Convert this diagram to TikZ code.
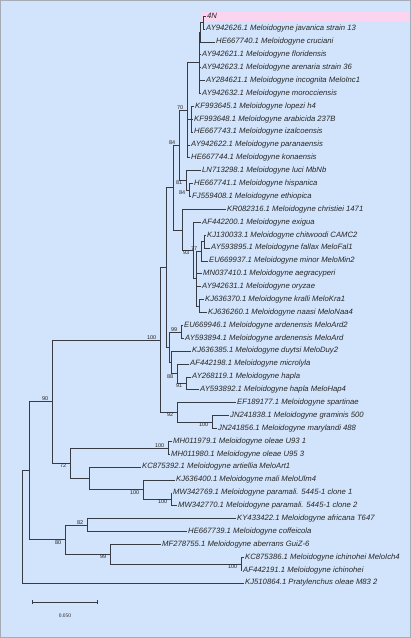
\documentclass[tikz,border=0pt]{standalone}
\usepackage{fontspec}
\setmainfont{Liberation Sans}
\newfontfamily\barfont{Liberation Serif}
\definecolor{panelblue}{RGB}{210,228,251}
\definecolor{framegray}{RGB}{165,172,182}
\definecolor{hilite}{RGB}{252,212,240}
\definecolor{branchgray}{RGB}{55,60,68}

\begin{document}
\begin{tikzpicture}[x=1pt, y=-1pt, every node/.style={font=\fontsize{7.7}{8}\selectfont\itshape, text=black!85},
    br/.style={draw=branchgray, line width=0.6pt},
    leaf/.style={anchor=west, inner sep=1pt},
    bsup/.style={anchor=south east, font=\fontsize{5.5}{6}\selectfont, inner sep=0.5pt},
    bsdn/.style={anchor=north east, font=\fontsize{5.5}{6}\selectfont, inner sep=0.5pt}]
    % panel
    \useasboundingbox (0,0) rectangle (411,638);
    \fill[panelblue] (0,0) rectangle (411,638);
    \draw[framegray] (0.5,0.5) rectangle (410.5,637);
    \fill[hilite] (202,12) rectangle (409,20.5);

    % leaves
    \node[leaf] (n4)   at (206,16.0)  {4N};
    \node[leaf] (jav)  at (205,28.9)  {AY942626.1 Meloidogyne javanica strain 13};
    \node[leaf] (cru)  at (215,41.8)  {HE667740.1 Meloidogyne cruciani};
    \node[leaf] (flo)  at (201,54.7)  {AY942621.1 Meloidogyne floridensis};
    \node[leaf] (are)  at (201,67.5)  {AY942623.1 Meloidogyne arenaria strain 36};
    \node[leaf] (inc)  at (205,80.4)  {AY284621.1 Meloidogyne incognita MeloInc1};
    \node[leaf] (mor)  at (201,93.3)  {AY942632.1 Meloidogyne morocciensis};
    \node[leaf] (lop)  at (194,106.2) {KF993645.1 Meloidogyne lopezi h4};
    \node[leaf] (arb)  at (193,119.1) {KF993648.1 Meloidogyne arabicida 237B};
    \node[leaf] (iza)  at (193,132.0) {HE667743.1 Meloidogyne izalcoensis};
    \node[leaf] (par)  at (190,144.9) {AY942622.1 Meloidogyne paranaensis};
    \node[leaf] (kon)  at (190,157.7) {HE667744.1 Meloidogyne konaensis};
    \node[leaf] (luc)  at (201,170.6) {LN713298.1 Meloidogyne luci MbNb};
    \node[leaf] (his)  at (193,183.5) {HE667741.1 Meloidogyne hispanica};
    \node[leaf] (eth)  at (191,196.4) {FJ559408.1 Meloidogyne ethiopica};
    \node[leaf] (chr)  at (226,209.3) {KR082316.1 Meloidogyne christiei 1471};
    \node[leaf] (exi)  at (201,222.2) {AF442200.1 Meloidogyne exigua};
    \node[leaf] (chi)  at (206,235.1) {KJ130033.1 Meloidogyne chitwoodi CAMC2};
    \node[leaf] (fal)  at (210,248.0) {AY593895.1 Meloidogyne fallax MeloFal1};
    \node[leaf] (min)  at (208,260.8) {EU669937.1 Meloidogyne minor MeloMin2};
    \node[leaf] (aeg)  at (202,273.7) {MN037410.1 Meloidogyne aegracyperi};
    \node[leaf] (ory)  at (201,286.6) {AY942631.1 Meloidogyne oryzae};
    \node[leaf] (kra)  at (204,299.5) {KJ636370.1 Meloidogyne kralli MeloKra1};
    \node[leaf] (naa)  at (207,312.4) {KJ636260.1 Meloidogyne naasi MeloNaa4};
    \node[leaf] (ard2) at (183,325.3) {EU669946.1 Meloidogyne ardenensis MeloArd2};
    \node[leaf] (ard)  at (184,338.2) {AY593894.1 Meloidogyne ardenensis MeloArd};
    \node[leaf] (duy)  at (191,351.0) {KJ636385.1 Meloidogyne duytsi MeloDuy2};
    \node[leaf] (mic)  at (189,363.9) {AF442198.1 Meloidogyne microlyla};
    \node[leaf] (hap)  at (191,376.8) {AY268119.1 Meloidogyne hapla};
    \node[leaf] (hap4) at (199,389.7) {AY593892.1 Meloidogyne hapla MeloHap4};
    \node[leaf] (spa)  at (236,402.6) {EF189177.1 Meloidogyne spartinae};
    \node[leaf] (gra)  at (229,415.5) {JN241838.1 Meloidogyne graminis 500};
    \node[leaf] (mar)  at (217,428.4) {JN241856.1 Meloidogyne marylandi 488};
    \node[leaf] (ole1) at (172,441.3) {MH011979.1 Meloidogyne oleae U93 1};
    \node[leaf] (ole3) at (170,454.2) {MH011980.1 Meloidogyne oleae U95 3};
    \node[leaf] (art)  at (141,467.0) {KC875392.1 Meloidogyne artiellia MeloArt1};
    \node[leaf] (mal)  at (175,479.9) {KJ636400.1 Meloidogyne mali MeloUlm4};
    \node[leaf] (pm1)  at (172,492.8) {MW342769.1 Meloidogyne paramali. 5445-1 clone 1};
    \node[leaf] (pm2)  at (177,505.7) {MW342770.1 Meloidogyne paramali. 5445-1 clone 2};
    \node[leaf] (afr)  at (236,518.6) {KY433422.1 Meloidogyne africana T647};
    \node[leaf] (cof)  at (187,531.5) {HE667739.1 Meloidogyne coffeicola};
    \node[leaf] (abe)  at (161,544.4) {MF278755.1 Meloidogyne aberrans GuiZ-6};
    \node[leaf] (ich4) at (244,557.3) {KC875386.1 Meloidogyne ichinohei MeloIch4};
    \node[leaf] (ich)  at (242,570.2) {AF442191.1 Meloidogyne ichinohei};
    \node[leaf] (pra)  at (244,583.0) {KJ510864.1 Pratylenchus oleae M83 2};

    % internal nodes
    \coordinate (jvA)  at (203,22.45);
    \coordinate (jvB)  at (200,32.1);
    \coordinate (trop) at (199,62.7);
    \coordinate (lopz) at (191,119.1);
    \coordinate (grpI) at (187,110.2);
    \coordinate (heth) at (189,190.0);
    \coordinate (luci) at (186,180.3);
    \coordinate (grpA) at (179,145.3);
    \coordinate (chfa) at (204,241.55);
    \coordinate (cfm)  at (201,251.2);
    \coordinate (krna) at (199,306.0);
    \coordinate (gras) at (196,278.6);
    \coordinate (exig) at (193,250.4);
    \coordinate (chri) at (182,229.9);
    \coordinate (grpB) at (173,187.6);
    \coordinate (ardn) at (181,331.8);
    \coordinate (happ) at (186,383.3);
    \coordinate (micr) at (177,373.6);
    \coordinate (duyt) at (171,362.3);
    \coordinate (hapg) at (169,347.0);
    \coordinate (core) at (166,267.3);
    \coordinate (gmar) at (212,422.0);
    \coordinate (spar) at (177,412.3);
    \coordinate (melo) at (160,339.8);
    \coordinate (olea) at (168,447.8);
    \coordinate (pmal) at (171,499.3);
    \coordinate (malg) at (143,489.6);
    \coordinate (artg) at (89,478.3);
    \coordinate (oleg) at (70,463.0);
    \coordinate (big)  at (52,401.4);
    \coordinate (afco) at (87,525.0);
    \coordinate (ichi) at (241,563.8);
    \coordinate (aber) at (110,554.1);
    \coordinate (basal) at (65,539.6);
    \coordinate (ingr) at (29,470.5);
    \coordinate (root) at (22,526.8);

    % branches to leaves
    \foreach \p/\c in {jvA/n4, jvA/jav, jvB/cru, trop/flo, trop/are, trop/inc, trop/mor,
        lopz/lop, lopz/arb, lopz/iza, grpI/par, grpI/kon, luci/luc, heth/his, heth/eth,
        chri/chr, exig/exi, chfa/chi, chfa/fal, cfm/min, gras/aeg, gras/ory, krna/kra, krna/naa,
        ardn/ard2, ardn/ard, duyt/duy, micr/mic, happ/hap, happ/hap4, spar/spa, gmar/gra, gmar/mar,
        olea/ole1, olea/ole3, artg/art, malg/mal, pmal/pm1, pmal/pm2, afco/afr, afco/cof,
        aber/abe, ichi/ich4, ichi/ich, root/pra}
      \draw[br] (\p) |- (\c.west);
    % branches between clades
    \foreach \p/\c in {jvB/jvA, trop/jvB, grpI/trop, grpI/lopz, luci/heth, grpA/grpI, grpA/luci,
        cfm/chfa, gras/cfm, gras/krna, exig/gras, chri/exig, grpB/grpA, grpB/chri,
        hapg/ardn, hapg/duyt, duyt/micr, micr/happ, core/grpB, core/hapg,
        spar/gmar, melo/core, melo/spar, malg/pmal, artg/malg, oleg/olea, oleg/artg,
        big/melo, big/oleg, basal/afco, basal/aber, aber/ichi, ingr/big, ingr/basal, root/ingr}
      \draw[br] (\p) |- (\c);

    % bootstrap values
    \node[bsup] at ([xshift=-3pt]grpI) {70};
    \node[bsup] at ([xshift=-3pt]grpA) {84};
    \node[bsdn] at ([xshift=-3pt]luci) {81};
    \node[bsdn] at ([xshift=-3pt]heth) {84};
    \node[bsup] at ([xshift=-3pt]cfm) {77};
    \node[bsdn] at ([xshift=-3pt]exig) {93};
    \node[bsup] at ([xshift=-3pt]ardn) {99};
    \node[bsdn] at ([xshift=-3pt]micr) {88};
    \node[bsdn] at ([xshift=-3pt]happ) {91};
    \node[bsup] at ([xshift=-3pt]melo) {100};
    \node[bsdn] at ([xshift=-3pt]spar) {92};
    \node[bsdn] at ([xshift=-3pt]gmar) {100};
    \node[bsup] at ([xshift=-3pt]olea) {100};
    \node[bsup] at ([xshift=-3pt]big) {90};
    \node[bsdn] at ([xshift=-3pt]oleg) {72};
    \node[bsdn] at ([xshift=-3pt]malg) {100};
    \node[bsdn] at ([xshift=-3pt]pmal) {100};
    \node[bsup] at ([xshift=-3pt]afco) {82};
    \node[bsdn] at ([xshift=-3pt]basal) {80};
    \node[bsdn] at ([xshift=-3pt]aber) {99};
    \node[bsdn] at ([xshift=-3pt]ichi) {100};

    % scale bar
    \coordinate (sbL) at (32,602);
    \coordinate (sbR) at (97,602);
    \draw[br] (sbL) -- (sbR);
    \draw[br] ([yshift=-2pt]sbL) -- ([yshift=2pt]sbL);
    \draw[br] ([yshift=-2pt]sbR) -- ([yshift=2pt]sbR);
    \node[font=\barfont\fontsize{5.5}{6}\selectfont] (sblab) at (65,616) {0.050};
\end{tikzpicture}
\end{document}
